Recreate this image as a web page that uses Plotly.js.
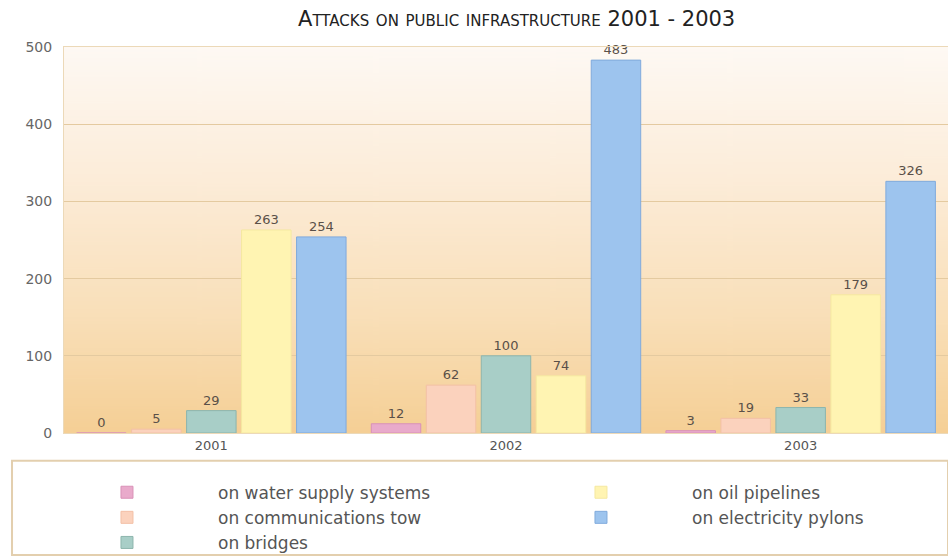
<!DOCTYPE html>
<html>
<head>
<meta charset="utf-8">
<script src="https://cdn.plot.ly/plotly-3.0.1.min.js"></script>
<style>html,body{margin:0;padding:0;background:#fff;}#chart{width:948px;height:556px;}</style>
</head>
<body>
<div id="chart"></div>
<script>
// ---- data ----
const years = ["2001", "2002", "2003"];
const seriesNames = ["on water supply systems", "on communications tow", "on bridges", "on oil pipelines", "on electricity pylons"];
const waterSupply = [0, 12, 3];
const communications = [5, 62, 19];
const bridges = [29, 100, 33];
const oilPipelines = [263, 74, 179];
const electricityPylons = [254, 483, 326];
const yTicks = [0, 100, 200, 300, 400, 500];

// ---- styling ----
const seriesValues = [waterSupply, communications, bridges, oilPipelines, electricityPylons];
const fills = ["#e9aacb", "#fbd2bd", "#a8cec7", "#fff4b2", "#9dc4ee"];
const edges = ["#d991b8", "#f3c0a6", "#8db5ad", "#f5e8a0", "#80aadc"];
const legendIds = ["legend", "legend", "legend", "legend2", "legend2"];
const FONT = "DejaVu Sans";

// background gradient as image
const cv = document.createElement("canvas");
cv.width = 10; cv.height = 400;
const ctx = cv.getContext("2d");
const g = ctx.createLinearGradient(0, 0, 0, 400);
g.addColorStop(0, "#fef9f4");
g.addColorStop(0.35, "#fcecd8");
g.addColorStop(0.7, "#f9dfb8");
g.addColorStop(1, "#f5cf95");
ctx.fillStyle = g; ctx.fillRect(0, 0, 10, 400);
const bgURL = cv.toDataURL();

const traces = seriesNames.map((name, i) => ({
  type: "bar",
  name: name,
  x: years,
  y: seriesValues[i],
  text: seriesValues[i].map(String),
  textposition: "outside",
  cliponaxis: false,
  textfont: {family: FONT, size: 13, color: "#5a5048"},
  marker: {color: fills[i], line: {color: edges[i], width: 1}},
  legend: legendIds[i],
  hoverinfo: "x+y+name"
}));

const legendStyle = (x) => ({
  orientation: "v",
  x: x, xanchor: "left",
  y: -0.108, yanchor: "top",
  itemwidth: 172,
  bgcolor: "rgba(0,0,0,0)",
  font: {family: FONT, size: 17, color: "#555"},
  traceorder: "normal"
});

const layout = {
  width: 948, height: 556,
  margin: {l: 64, r: 0, t: 47, b: 123, autoexpand: false},
  paper_bgcolor: "#ffffff",
  plot_bgcolor: "rgba(0,0,0,0)",
  font: {family: FONT, color: "#5a5a5a"},
  title: {
    text: "Attacks on public infrastructure 2001 - 2003",
    font: {family: FONT, size: 21, color: "#222", variant: "small-caps"},
    x: 0.545, xanchor: "center", y: 0.966, yanchor: "middle", yref: "container"
  },
  barmode: "group",
  bargap: 0.067,
  bargroupgap: 0.1,
  xaxis: {
    type: "category",
    tickfont: {family: FONT, size: 13, color: "#555"},
    showline: true, linecolor: "#ecd9b8", linewidth: 1, mirror: true,
    ticks: "", showgrid: false
  },
  yaxis: {
    range: [0, 500],
    tickvals: yTicks,
    tickfont: {family: FONT, size: 14, color: "#666"},
    showgrid: true, gridcolor: "#e4caa0", gridwidth: 1,
    zeroline: false,
    showline: true, linecolor: "#ecd9b8", linewidth: 1,
    ticks: "", ticklabelstandoff: 8
  },
  images: [{
    source: bgURL, xref: "paper", yref: "paper",
    x: 0, y: 1, sizex: 1, sizey: 1, sizing: "stretch",
    xanchor: "left", yanchor: "top", layer: "below"
  }],
  shapes: [{
    type: "rect", xref: "paper", yref: "paper",
    x0: -0.0588, x1: 1.0, y0: -0.316, y1: -0.072,
    line: {color: "#e3cfae", width: 2}, fillcolor: "rgba(0,0,0,0)"
  }],
  showlegend: true,
  legend: legendStyle(-0.0317),
  legend2: legendStyle(0.5045)
};

Plotly.newPlot("chart", traces, layout, {displayModeBar: false, staticPlot: true});
</script>
</body>
</html>
